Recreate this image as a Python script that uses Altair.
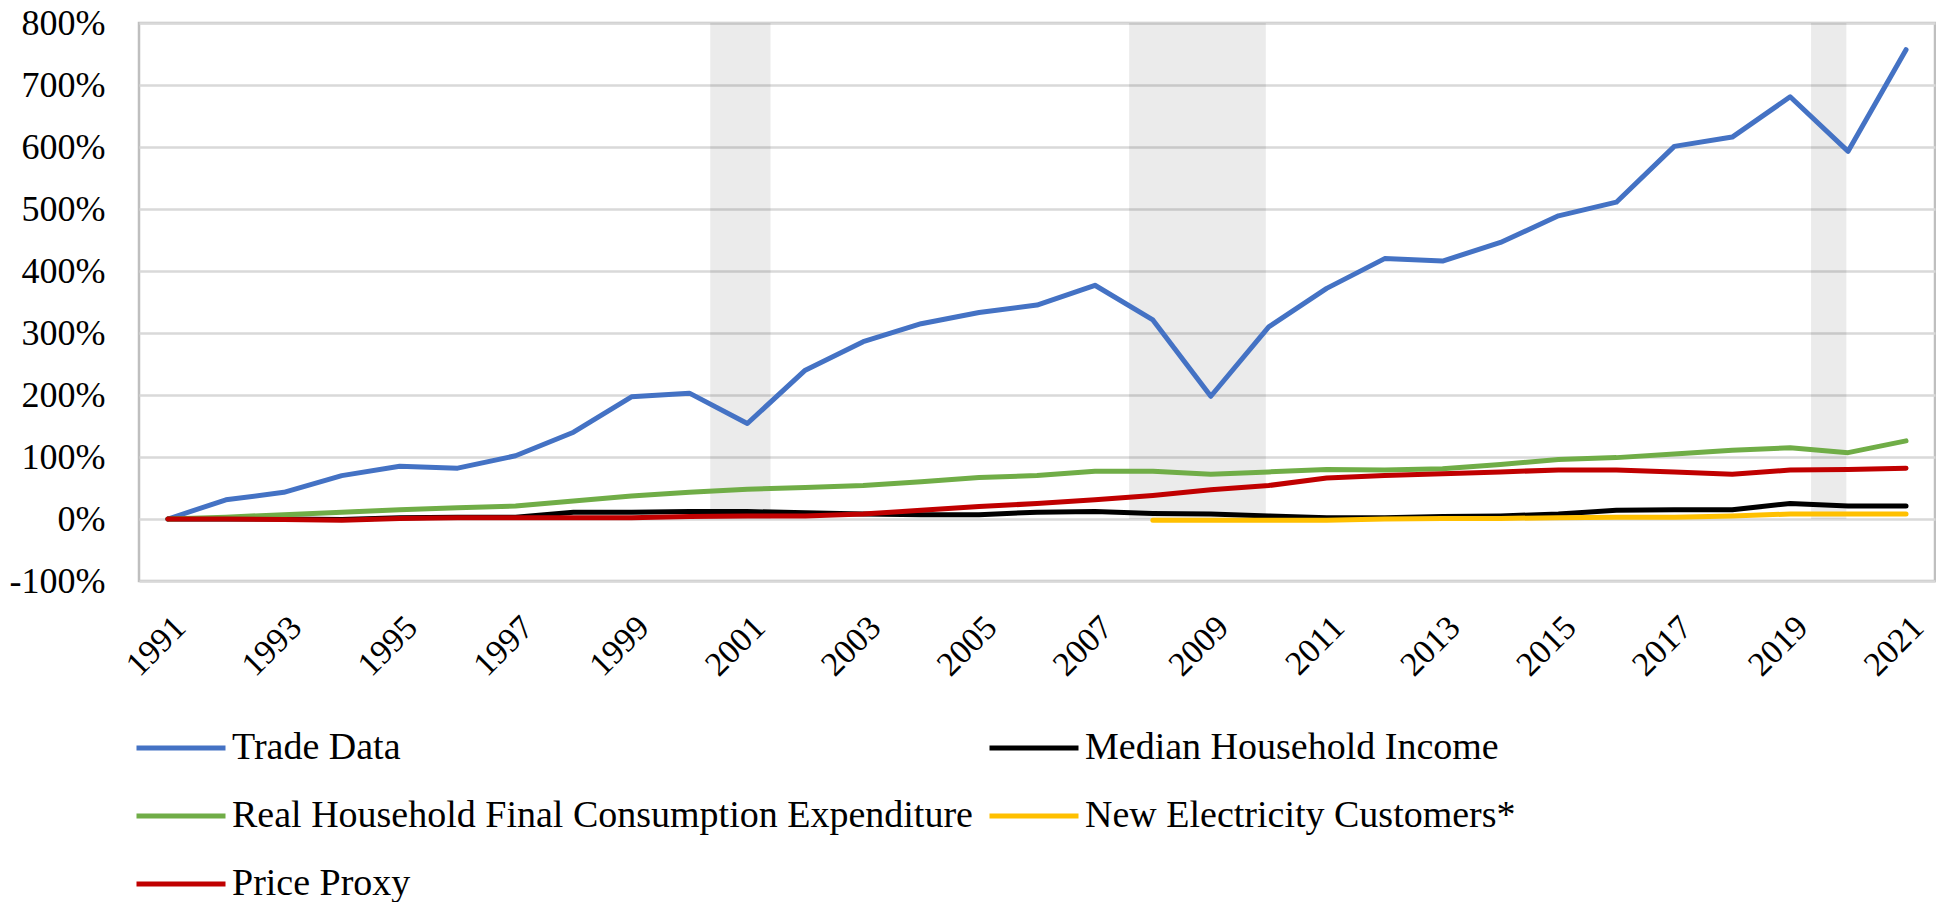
import altair as alt
import pandas as pd

years = list(range(1991, 2022))

trade_data = [0, 31, 43, 70, 85, 82, 102, 140, 197, 203, 154, 240, 286, 315, 333, 345,
              377, 321, 198, 310, 372, 420, 416, 446, 489, 511, 601, 616, 681, 593, 757]
median_income = [0, 0, 0, -1, 2, 3, 3, 11, 11, 12, 12, 10, 8, 7, 7, 11,
                 12, 9, 8, 5, 2, 2, 4, 5, 8, 14, 15, 15, 25, 21, 21]
real_hfce = [0, 3, 7, 11, 15, 18, 21, 29, 37, 43, 48, 51, 54, 60, 67, 70,
             77, 77, 72, 76, 80, 79, 81, 88, 96, 99, 105, 111, 115, 107, 126]
new_elec = [None] * 17 + [-2, -2, -2, -2, 0, 1, 1, 2, 3, 3, 5, 8, 8, 8]
price_proxy = [0, 0, -1, -2, 1, 2, 2, 2, 2, 4, 5, 5, 8, 14, 20, 25,
               31, 38, 47, 54, 66, 70, 73, 76, 79, 79, 76, 72, 79, 80, 82]

series_names = ["Trade Data", "Median Household Income",
                "Real Household Final Consumption Expenditure",
                "New Electricity Customers*", "Price Proxy"]
series_colors = ["#4472C4", "#000000", "#70AD47", "#FFC000", "#C00000"]
series_values = [trade_data, median_income, real_hfce, new_elec, price_proxy]

band_start = [2000.36, 2007.59, 2019.36]
band_end = [2001.40, 2009.95, 2019.97]

x_ticks = list(range(1991, 2022, 2))
y_ticks = list(range(-100, 801, 100))

rows = []
for name, vals in zip(series_names, series_values):
    for yr, v in zip(years, vals):
        if v is not None:
            rows.append({"year": yr, "value": v, "series": name})
df = pd.DataFrame(rows)

band_df = pd.DataFrame({"start": band_start, "end": band_end,
                        "bottom": [0] * 3, "top": [800] * 3})

FONT = "Liberation Serif"

x_scale = alt.Scale(domain=[1990.5, 2021.5], nice=False, zero=False)
y_scale = alt.Scale(domain=[-100, 800], nice=False, zero=False)

x_axis = alt.Axis(values=x_ticks, format="d", labelAngle=-45,
                  labelAlign="right", labelBaseline="top",
                  labelPadding=29, labelOffset=0, ticks=False,
                  domain=False, grid=False, labelOverlap=False,
                  labelFlush=False, labelFont=FONT, labelFontSize=34,
                  labelColor="#000000", title=None)
y_axis = alt.Axis(values=y_ticks, labelExpr="datum.value + '%'",
                  ticks=False, domain=False, grid=True,
                  gridColor="#d9d9d9", gridWidth=2.5,
                  labelPadding=34, labelOverlap=False, labelFlush=False,
                  labelFont=FONT, labelFontSize=36, labelColor="#000000",
                  title=None)

bands = alt.Chart(band_df).mark_rect(color="#000000", opacity=0.08).encode(
    x=alt.X("start:Q", scale=x_scale, title=None, axis=x_axis),
    x2="end:Q",
    y=alt.Y("bottom:Q", scale=y_scale, title=None, axis=y_axis),
    y2="top:Q",
)

lines = alt.Chart(df).mark_line(strokeWidth=5, strokeCap="round",
                                strokeJoin="round").encode(
    x=alt.X("year:Q", scale=x_scale, title=None, axis=x_axis),
    y=alt.Y("value:Q", scale=y_scale, title=None, axis=y_axis),
    color=alt.Color("series:N", sort=series_names,
                    scale=alt.Scale(domain=series_names, range=series_colors),
                    legend=alt.Legend(title=None, orient="none", legendX=-5,
                                      legendY=678, columns=2, direction="horizontal",
                                      symbolType="stroke", symbolSize=7921,
                                      symbolStrokeWidth=5, labelFont=FONT,
                                      labelFontSize=38, labelColor="#000000",
                                      rowPadding=2, columnPadding=6,
                                      labelOffset=4, labelLimit=0, padding=0)),
    detail="series:N",
)

chart = alt.layer(bands, lines).properties(
    width=1796, height=558,
    padding={"left": 131, "top": 15, "right": 1, "bottom": 321},
    autosize=alt.AutoSizeParams(type="none"),
    background="#ffffff",
).configure_view(stroke="#bfbfbf", strokeWidth=2.5)

chart.save("out.html", embed_options={"renderer": "svg", "actions": False})
